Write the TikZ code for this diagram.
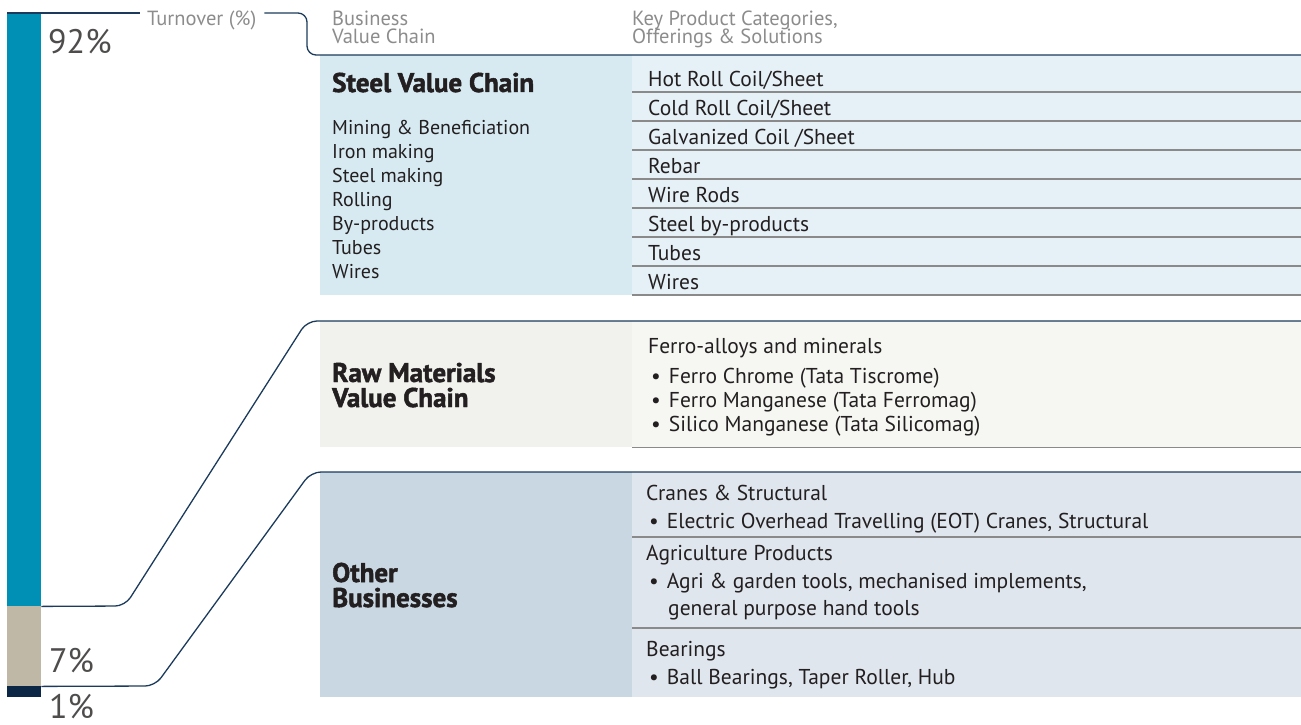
\documentclass[tikz,border=0pt]{standalone}
\usepackage{fontspec}
\setmainfont{PT Sans}
\newfontfamily\heavy{PT Sans Bold}[FakeBold=1.8]
\definecolor{ink}{HTML}{231F20}
\definecolor{grey}{HTML}{8C8C8C}
\definecolor{navy}{HTML}{1B3A5C}
\definecolor{rulec}{HTML}{8A8A8A}
\definecolor{teal92}{HTML}{0090B5}
\definecolor{sand7}{HTML}{BFB8A6}
\definecolor{navy1}{HTML}{0B2745}
\definecolor{steelL}{HTML}{D7EAF2}
\definecolor{steelR}{HTML}{E6F1F7}
\definecolor{rawL}{HTML}{F1F1EE}
\definecolor{rawR}{HTML}{F6F6F3}
\definecolor{othL}{HTML}{C9D7E2}
\definecolor{othR}{HTML}{DFE6EE}

\begin{document}
\begin{tikzpicture}[x=1pt,y=-1pt,
  every node/.style={inner sep=0pt,text=ink,font=\fontsize{21.5}{24}\selectfont},
  bar/.style={anchor=north west,minimum width=34,fill=#1},
  panel/.style={anchor=north west,minimum width=#1},
  pct/.style={anchor=base west,text=ink!80,font=\fontsize{34}{34}\selectfont},
  head/.style={anchor=base west,text=grey,font=\fontsize{20.5}{20}\selectfont},
  title/.style={anchor=base west,align=left,font=\fontsize{27}{25}\heavy},
  item/.style={anchor=base west},
  list/.style={anchor=base west,font=\fontsize{20}{24}\selectfont},
  link/.style={navy,line width=1.3pt},
  rule/.style={rulec,line width=1.2pt}]
\useasboundingbox (0,0) rectangle (1301,725);

\node[bar=teal92,minimum height=593] (b92) at (7,13) {};
\node[bar=sand7,minimum height=80] (b7) at (7,606) {};
\node[bar=navy1,minimum height=11] (b1) at (7,686) {};

\node[pct] (p92) at (48,54) {92\%};
\node[pct] (p7) at (49,672) {7\%};
\node[pct] (p1) at (49,718) {1\%};

\node[panel=312,minimum height=240,fill=steelL] (steel) at (320,55) {};
\node[panel=669,minimum height=240,fill=steelR] (steelp) at (632,55) {};
\node[panel=312,minimum height=126,fill=rawL] (raw) at (320,321) {};
\node[panel=669,minimum height=126,fill=rawR] (rawp) at (632,321) {};
\node[panel=312,minimum height=225,fill=othL] (oth) at (320,472) {};
\node[panel=669,minimum height=225,fill=othR] (othp) at (632,472) {};

\node[head] (turn) at (147,26) {Turnover (\%)};
\node[head] (bvc1) at (332,26) {Business};
\node[head] (bvc2) at (332,44) {Value Chain};
\node[head] (kpc1) at (632,26) {Key Product Categories,};
\node[head] (kpc2) at (632,44) {Offerings \& Solutions};

\draw[link] (b92.north west) -- ([xshift=-7pt]turn.west |- b92.north west);
\draw[link,rounded corners=9pt] ([xshift=8pt]turn.east |- b92.north west) -- (307,13) -- (307,55) -- (steelp.north east);
\draw[link,rounded corners=10pt] (b92.south east) -- (125,606) -- (307,321) -- (rawp.north east);
\draw[link,rounded corners=10pt] (b7.south east) -- (155,686) -- (311,472) -- (othp.north east);

\node[title] (steelt) at (332,92) {Steel Value Chain};
\foreach \t [count=\i] in {Mining \& Beneficiation,Iron making,Steel making,Rolling,By-products,Tubes,Wires}
  \node[list] (vc\i) at (332,{110+24*\i}) {\t};
\foreach \t [count=\i] in {Hot Roll Coil/Sheet,Cold Roll Coil/Sheet,Galvanized Coil /Sheet,Rebar,Wire Rods,Steel by-products,Tubes,Wires}{
  \node[item] (prod\i) at (648,{57.5+29*\i}) {\t};
  \draw[rule] (632,{63+29*\i}) -- (1301,{63+29*\i});
}

\node[title] (rawt) at (332,407) {Raw Materials\\Value Chain};
\node[item] (fa) at (648,353) {Ferro-alloys and minerals};
\foreach \t [count=\i] in {Ferro Chrome (Tata Tiscrome),Ferro Manganese (Tata Ferromag),Silico Manganese (Tata Silicomag)}
  \node[item] (fa\i) at (651,{359+24*\i}) {\textbullet\hspace{8pt}\t};
\draw[rule] (rawp.south west) -- (rawp.south east);

\node[title] (otht) at (332,607) {Other\\Businesses};
\node[item] (cr) at (646,500) {Cranes \& Structural};
\node[item] (cr1) at (649,528) {\textbullet\hspace{8pt}Electric Overhead Travelling (EOT) Cranes, Structural};
\draw[rule] (632,537) -- (1301,537);
\node[item] (ag) at (646,560) {Agriculture Products};
\node[item] (ag1) at (649,588) {\textbullet\hspace{8pt}Agri \& garden tools, mechanised implements,};
\node[item] (ag2) at (668,615) {general purpose hand tools};
\draw[rule] (632,628) -- (1301,628);
\node[item] (be) at (646,656) {Bearings};
\node[item] (be1) at (649,684) {\textbullet\hspace{8pt}Ball Bearings, Taper Roller, Hub};
\end{tikzpicture}
\end{document}
